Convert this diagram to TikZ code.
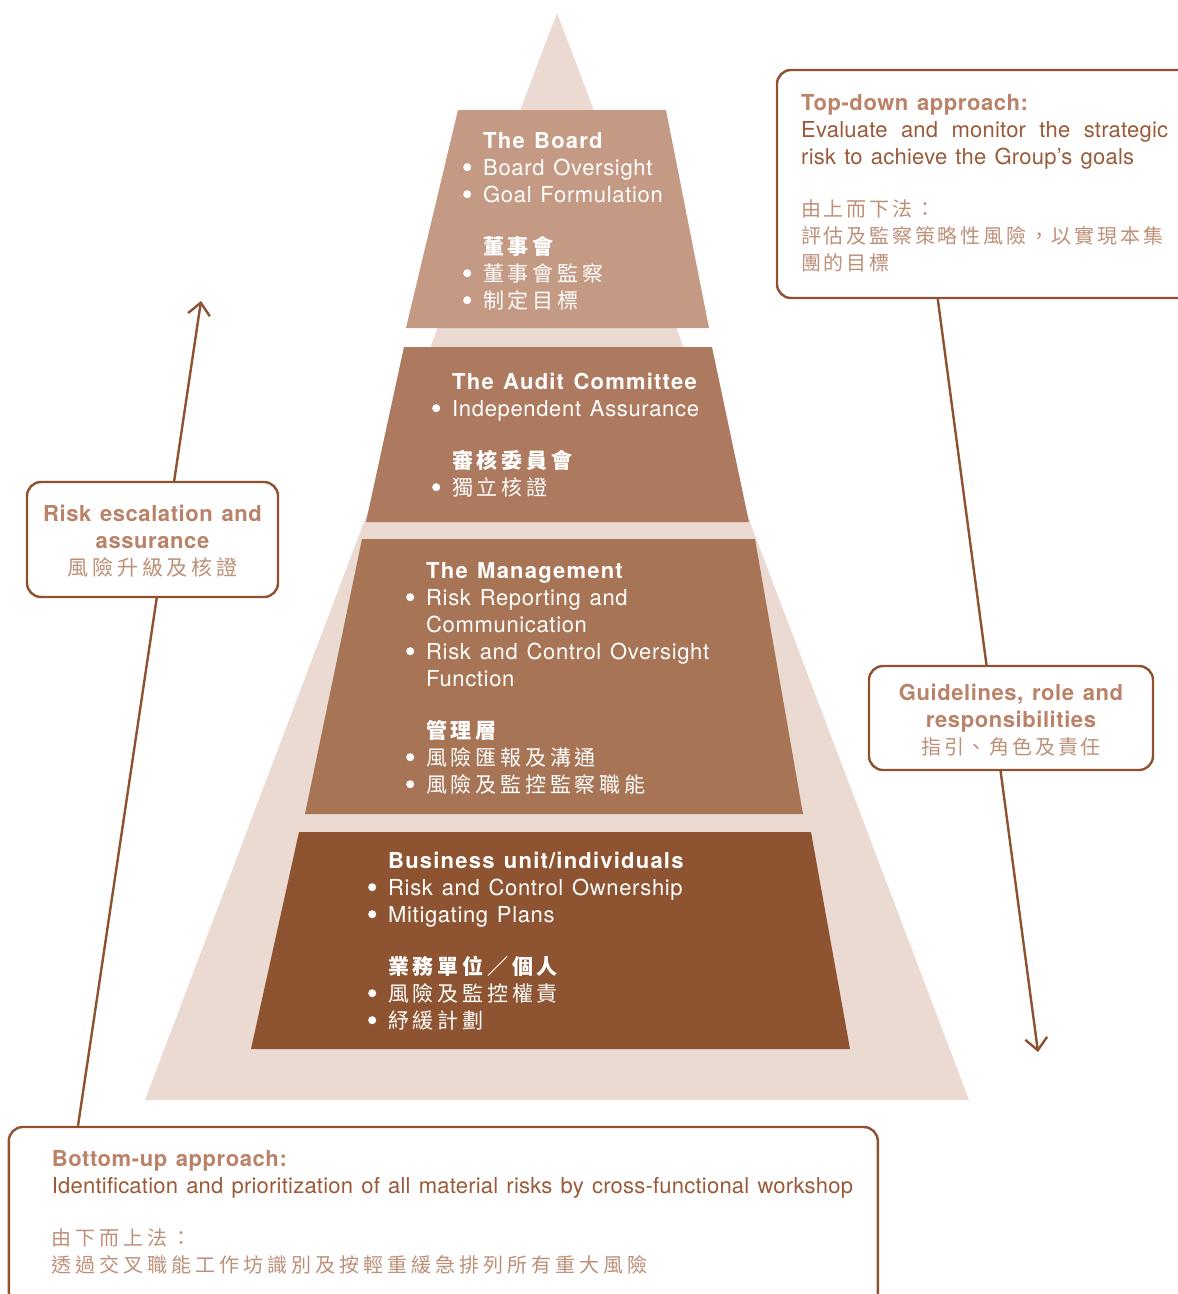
\documentclass[tikz,border=0pt]{standalone}
\usepackage{fontspec}
\setmainfont{TeX Gyre Heros}[LetterSpace=1, WordSpace=1.3, BoldFeatures={LetterSpace=2.6}]
\newfontfamily\pyr{TeX Gyre Heros}[LetterSpace=3, WordSpace=1.3, BoldFeatures={LetterSpace=5.5}]
\newfontfamily\cjkA{Noto Sans CJK TC}[LetterSpace=18]
\newfontfamily\cjkB{Noto Sans CJK TC}[LetterSpace=14]
\newfontfamily\cjkC{Noto Sans CJK TC}[LetterSpace=20]
\usetikzlibrary{arrows.meta}
\pgfdeclarelayer{bg}
\pgfsetlayers{bg,main}
\definecolor{tri}{HTML}{EBDAD2}
\definecolor{boardc}{HTML}{C49A84}
\definecolor{auditc}{HTML}{AD7A5F}
\definecolor{mgmtc}{HTML}{A77456}
\definecolor{bizc}{HTML}{8E5331}
\definecolor{linec}{HTML}{8E5230}
\definecolor{headc}{HTML}{BA8369}
\definecolor{bodyc}{HTML}{9B5A38}
\definecolor{cjkc}{HTML}{BD9079}
\newcommand\bul{\llap{\tikz[baseline=0pt]\fill[white] (0pt,8pt) circle[radius=4pt];\hspace{12pt}}}
\newcommand\cA[1]{{\cjkA\fontsize{21}{27}\selectfont #1}}
\newcommand\cB[1]{{\cjkB\fontsize{20}{27}\selectfont #1}}
\newcommand\cC[1]{{\cjkC\fontsize{20}{27}\selectfont #1}}
\newcommand\fstrut{\rule{0pt}{20pt}}
\begin{document}
\begin{tikzpicture}[x=1pt,y=-1pt,
  ptext/.style={anchor=north west, inner sep=0pt, align=left, text=white, font=\pyr\fontsize{22}{27}\selectfont},
  btext/.style={inner sep=0pt, text=bodyc, font=\fontsize{22}{27}\selectfont},
  box/.style={draw=linec, line width=2.4pt, rounded corners=14pt, fill=white, inner sep=0pt},
  arr/.style={draw=linec, line width=2.4pt, -{Straight Barb[length=12pt,width=22pt]}}]
\useasboundingbox (0,0) rectangle (1178,1294);
\clip (0,0) rectangle (1178,1294);
% pyramid
\fill[tri] (557,13) -- (969,1100) -- (145,1100) -- cycle;
\fill[boardc] (458,110) -- (666,110) -- (709,328) -- (406,328) -- cycle;
\fill[auditc] (404,347) -- (712,347) -- (749,522) -- (366,522) -- cycle;
\fill[mgmtc] (362,539) -- (755,539) -- (803,814) -- (305,814) -- cycle;
\fill[bizc] (299,832) -- (811,832) -- (850,1049) -- (251,1049) -- cycle;
% pyramid texts
\node[ptext] (tboard) at (483,128) {\fstrut\bfseries The Board\\
\bul Board Oversight\\
\bul Goal Formulation\\[25pt]
\cA{\bfseries 董事會}\\
\bul\cA{董事會監察}\\
\bul\cA{制定目標}};
\node[ptext] (taudit) at (452,369) {\fstrut\bfseries The Audit Committee\\
\bul Independent Assurance\\[25pt]
\cA{\bfseries 審核委員會}\\
\bul\cA{獨立核證}};
\node[ptext] (tmgmt) at (426,558) {\fstrut\bfseries The Management\\
\bul Risk Reporting and\\
Communication\\
\bul Risk and Control Oversight\\
Function\\[25pt]
\cA{\bfseries 管理層}\\
\bul\cA{風險匯報及溝通}\\
\bul\cA{風險及監控監察職能}};
\node[ptext] (tbiz) at (388,848) {\fstrut\bfseries Business unit/individuals\\
\bul Risk and Control Ownership\\
\bul Mitigating Plans\\[25pt]
\cA{\bfseries 業務單位／個人}\\
\bul\cA{風險及監控權責}\\
\bul\cA{紓緩計劃}};
% boxes
\node[box, minimum width=430pt, minimum height=228pt] (topbox) at (992,184) {};
\node[box, minimum width=251pt, minimum height=115pt] (esc) at (152.5,539.5) {};
\node[box, minimum width=284pt, minimum height=104pt] (guide) at (1011,718) {};
\node[box, minimum width=869pt, minimum height=200pt] (botbox) at (443.3,1227) {};
\coordinate (tipL) at (201,301);
\coordinate (tipR) at (1038,1052);
\begin{pgfonlayer}{bg}
\draw[arr] ([xshift=70.4pt]botbox.north west) -- (tipL);
\draw[arr] ([xshift=162pt]topbox.south west) -- (tipR);
\end{pgfonlayer}
% box texts
\node[btext, anchor=north west, align=left] (ttop) at (801,90) {\fstrut{\bfseries\color{headc}Top-down approach:}\\
\hbox to 367pt{Evaluate\hfill and\hfill monitor\hfill the\hfill strategic}\\
risk to achieve the Group’s goals\\[25pt]
{\color{cjkc}\cB{由上而下法：}}\\
{\color{cjkc}\cB{評估及監察策略性風險，以實現本集}}\\
{\color{cjkc}\cB{團的目標}}};
\node[btext, anchor=north, align=center, text=headc] (tesc) at (152.5,501) {\fstrut\bfseries Risk escalation and\\
\bfseries assurance\\
{\color{cjkc}\cA{風險升級及核證}}};
\node[btext, anchor=north, align=center, text=headc] (tguide) at (1011,680) {\fstrut\bfseries Guidelines, role and\\
\bfseries responsibilities\\
{\color{cjkc}\cB{指引、角色及責任}}};
\node[btext, anchor=north west, align=left] (tbot) at (51.7,1146) {\fstrut{\bfseries\color{headc}Bottom-up approach:}\\
Identification and prioritization of all material risks by cross-functional workshop\\[25pt]
{\color{cjkc}\cC{由下而上法：}}\\
{\color{cjkc}\cC{透過交叉職能工作坊識別及按輕重緩急排列所有重大風險}}};
\end{tikzpicture}
\end{document}
